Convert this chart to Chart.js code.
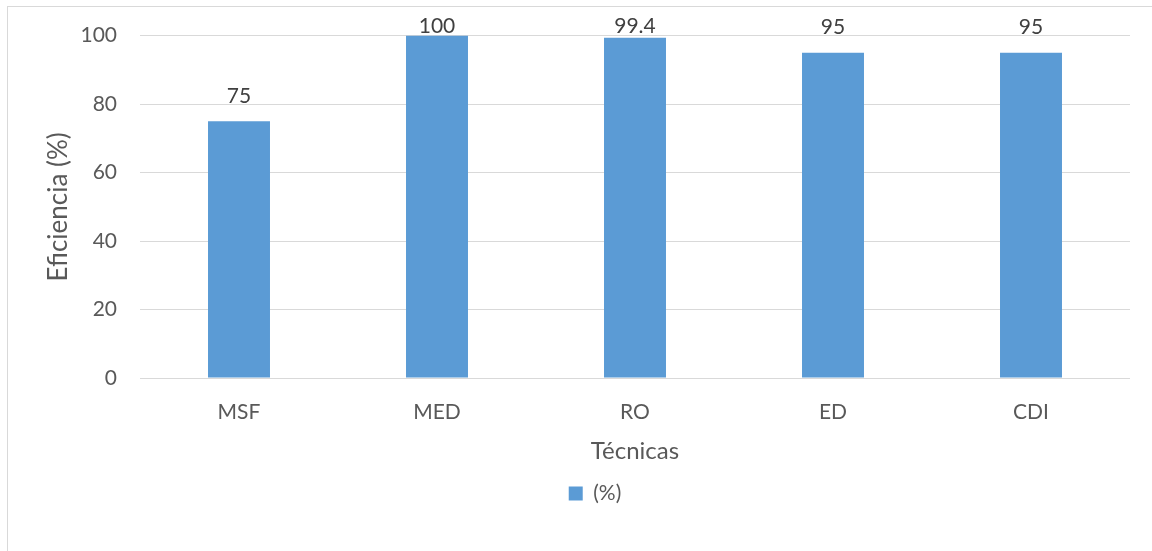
<!DOCTYPE html>
<html>
<head>
<meta charset="utf-8">
<script src="https://cdn.jsdelivr.net/npm/chart.js@4/dist/chart.umd.min.js"></script>
<style>
  html, body { margin: 0; padding: 0; background: #fff; overflow: hidden; }
  #marco { position: absolute; left: 7px; top: 6px; width: 1170px; height: 570px; border: 1px solid #d9d9d9; }
  #grafica { position: absolute; left: 0; top: 0; }
</style>
</head>
<body>
<div id="marco"></div>
<canvas id="grafica" width="1152" height="551"></canvas>
<script>
const tecnicas = ["MSF", "MED", "RO", "ED", "CDI"];
const eficiencia = [75, 100, 99.4, 95, 95];
const serie = "(%)";

// etiquetas encima de cada barra (como en excel)
const etiquetas = {
    id: 'etiquetas',
    afterDatasetsDraw(chart) {
        const ctx = chart.ctx;
        const meta = chart.getDatasetMeta(0);
        ctx.save();
        ctx.font = '21px Lato';
        ctx.fillStyle = '#404040';
        ctx.textAlign = 'center';
        ctx.textBaseline = 'middle';
        meta.data.forEach(function(barra, i) {
            const y = Math.max(barra.y - 25, chart.chartArea.top - 9);
            ctx.fillText(String(eficiencia[i]), barra.x, y);
        });
        ctx.restore();
    }
};

var grafica = document.getElementById("grafica");
var miGrafica = new Chart(grafica, {
    type: "bar",
    data: {
        labels: tecnicas,
        datasets: [{
            label: serie,
            data: eficiencia,
            backgroundColor: "#5b9bd5",
            barPercentage: 0.313,
            categoryPercentage: 1
        }]
    },
    options: {
        responsive: false,
        animation: false,
        devicePixelRatio: 1,
        layout: { padding: { left: 60, right: 22, top: 35, bottom: 37 } },
        plugins: {
            tooltip: { enabled: false },
            legend: {
                position: 'bottom',
                labels: {
                    boxWidth: 14, boxHeight: 14, padding: 10,
                    color: '#595959',
                    font: { family: 'Lato', size: 21 }
                }
            }
        },
        scales: {
            x: {
                grid: { display: false },
                border: { display: false },
                ticks: { color: '#595959', padding: 14, font: { family: 'Lato', size: 21 } },
                title: {
                    display: true, text: 'Técnicas', color: '#595959',
                    font: { family: 'Lato', size: 24 },
                    padding: { top: 13, bottom: 7 }
                },
                afterFit: function(scale) { scale.height = 95; }
            },
            y: {
                min: 0, max: 100,
                grid: { color: '#d9d9d9', lineWidth: 1, drawTicks: false },
                border: { display: false },
                ticks: { stepSize: 20, color: '#595959', padding: 23, font: { family: 'Lato', size: 21 } },
                title: {
                    display: true, text: 'Eficiencia (%)', color: '#595959',
                    font: { family: 'Lato', size: 26 },
                    padding: { top: -17, bottom: 0 }
                },
                afterFit: function(scale) { scale.width = 80; }
            }
        }
    },
    plugins: [etiquetas]
});
</script>
</body>
</html>
